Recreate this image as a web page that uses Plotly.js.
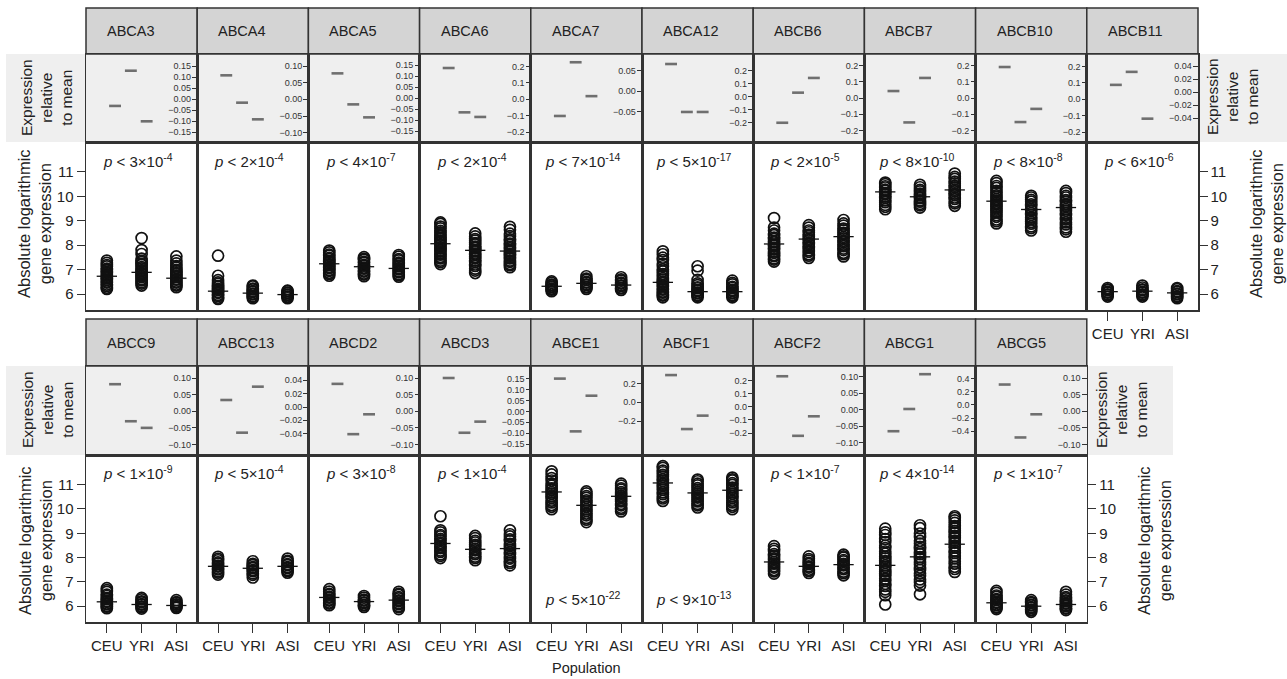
<!DOCTYPE html>
<html>
<head>
<meta charset="utf-8">
<script src="https://cdn.plot.ly/plotly-3.0.1.min.js"></script>
<style>html,body{margin:0;padding:0;background:#fff;}#chart{width:1287px;height:679px;}</style>
</head>
<body>
<div id="chart"></div>
<script>
// ---------------- DATA ----------------
const genes = ["ABCA3","ABCA4","ABCA5","ABCA6","ABCA7","ABCA12","ABCB6","ABCB7","ABCB10","ABCB11",
               "ABCC9","ABCC13","ABCD2","ABCD3","ABCE1","ABCF1","ABCF2","ABCG1","ABCG5"];
const populations = ["CEU","YRI","ASI"];

// p-value text: mantissa and exponent
const pMantissa = [3,2,4,2,7,5,2,8,8,6, 1,5,3,1,5,9,1,4,1];
const pExponent = [-4,-4,-7,-4,-14,-17,-5,-10,-8,-6, -9,-4,-8,-4,-22,-13,-7,-14,-7];

// Expression relative to mean (CEU, YRI, ASI)
const relCEU = [-0.03, 0.072, 0.112, 0.19, -0.06, 0.249, -0.153, 0.043, 0.196, 0.011,
                0.082, 0.0105, 0.083, 0.153, 0.254, 0.24, 0.101, -0.40, 0.081];
const relYRI = [0.13, -0.01, -0.029, -0.079, 0.07, -0.12, 0.033, -0.151, -0.138, 0.031,
                -0.030, -0.0385, -0.069, -0.098, -0.311, -0.17, -0.079, -0.061, -0.079];
const relASI = [-0.10, -0.06, -0.088, -0.107, -0.012, -0.12, 0.124, 0.124, -0.058, -0.041,
                -0.050, 0.0305, -0.009, -0.047, 0.071, -0.068, -0.020, 0.47, -0.009];

// tick values of the small "relative" axes
const relTicks = [
  [-0.15,-0.10,-0.05,0,0.05,0.10,0.15],
  [-0.10,-0.05,0,0.05,0.10],
  [-0.15,-0.10,-0.05,0,0.05,0.10,0.15],
  [-0.2,-0.1,0,0.1,0.2],
  [-0.05,0,0.05],
  [-0.2,-0.1,0,0.1,0.2],
  [-0.2,-0.1,0,0.1,0.2],
  [-0.2,-0.1,0,0.1,0.2],
  [-0.2,-0.1,0,0.1,0.2],
  [-0.04,-0.02,0,0.02,0.04],
  [-0.10,-0.05,0,0.05,0.10],
  [-0.04,-0.02,0,0.02,0.04],
  [-0.10,-0.05,0,0.05,0.10],
  [-0.15,-0.10,-0.05,0,0.05,0.10,0.15],
  [-0.2,0,0.2],
  [-0.2,-0.1,0,0.1,0.2],
  [-0.10,-0.05,0,0.05,0.10],
  [-0.4,-0.2,0,0.2,0.4],
  [-0.10,-0.05,0,0.05,0.10]
];

// population means of absolute log expression
const meanCEU = [6.73, 6.12, 7.24, 8.06, 6.32, 6.48, 8.05, 10.18, 9.80, 6.10,
                 6.18, 7.64, 6.36, 8.58, 10.70, 11.07, 7.82, 7.68, 6.14];
const meanYRI = [6.89, 6.04, 7.12, 7.79, 6.44, 6.10, 8.25, 9.98, 9.46, 6.12,
                 6.07, 7.56, 6.19, 8.34, 10.15, 10.66, 7.64, 8.03, 6.00];
const meanASI = [6.65, 5.98, 7.05, 7.76, 6.37, 6.10, 8.35, 10.26, 9.54, 6.05,
                 6.03, 7.64, 6.25, 8.37, 10.52, 10.77, 7.71, 8.55, 6.07];

// individual samples (absolute log expression)
const samplesCEU = [
  [6.21,6.26,6.33,6.39,6.47,6.51,6.58,6.64,6.68,6.75,6.79,6.86,6.91,6.99,7.04,7.13,7.19,7.28,7.37],
  [5.80,5.85,5.92,5.97,6.05,6.09,6.17,6.21,6.29,6.33,6.42,6.48,6.57,6.75,7.57],
  [6.75,6.82,6.87,6.95,6.99,7.07,7.11,7.19,7.23,7.31,7.35,7.43,7.48,7.57,7.62,7.71,7.78],
  [7.23,7.31,7.37,7.46,7.52,7.61,7.65,7.74,7.79,7.87,7.91,8.00,8.04,8.12,8.17,8.25,8.30,8.39,8.44,8.53,8.59,8.69,8.76,8.87,8.93],
  [6.12,6.18,6.22,6.28,6.31,6.36,6.39,6.46,6.52],
  [5.87,5.94,5.98,6.06,6.10,6.18,6.22,6.31,6.36,6.45,6.50,6.59,6.65,6.75,6.82,6.93,7.01,7.14,7.24,7.39,7.49,7.63,7.75],
  [7.33,7.41,7.46,7.55,7.60,7.69,7.74,7.83,7.88,7.97,8.02,8.11,8.16,8.25,8.31,8.41,8.47,8.60,8.72,9.11],
  [9.47,9.57,9.65,9.76,9.83,9.93,9.99,10.08,10.13,10.22,10.27,10.36,10.41,10.50,10.56],
  [8.89,8.98,9.05,9.16,9.23,9.34,9.40,9.50,9.56,9.66,9.72,9.82,9.88,9.98,10.04,10.15,10.22,10.34,10.42,10.54,10.63],
  [5.90,5.96,5.99,6.06,6.09,6.16,6.19,6.25],
  [5.92,5.98,6.01,6.08,6.11,6.18,6.21,6.29,6.33,6.42,6.48,6.59,6.66,6.74],
  [7.30,7.38,7.43,7.51,7.55,7.63,7.67,7.75,7.80,7.89,7.95,8.03],
  [6.04,6.11,6.15,6.23,6.27,6.35,6.39,6.47,6.51,6.60,6.70],
  [7.98,8.07,8.13,8.23,8.29,8.39,8.45,8.55,8.61,8.71,8.77,8.87,8.93,9.04,9.12,9.70],
  [9.99,10.09,10.16,10.27,10.34,10.45,10.52,10.63,10.69,10.79,10.85,10.96,11.04,11.17,11.27,11.42,11.55],
  [10.33,10.43,10.50,10.61,10.68,10.79,10.86,10.97,11.04,11.15,11.22,11.33,11.40,11.51,11.58,11.69,11.76],
  [7.34,7.43,7.49,7.59,7.65,7.75,7.81,7.91,7.97,8.07,8.14,8.27,8.36,8.47],
  [6.07,6.45,6.59,6.69,6.83,6.92,7.05,7.13,7.25,7.32,7.43,7.50,7.61,7.68,7.79,7.86,7.97,8.04,8.16,8.25,8.39,8.49,8.64,8.76,8.93,9.04,9.19],
  [5.88,5.94,5.97,6.04,6.07,6.14,6.17,6.25,6.29,6.38,6.44,6.55,6.63]
];
const samplesYRI = [
  [6.35,6.43,6.48,6.56,6.61,6.69,6.73,6.81,6.85,6.93,6.97,7.05,7.10,7.19,7.23,7.31,7.36,7.45,7.64,7.80,8.29],
  [5.83,5.89,5.92,5.99,6.02,6.09,6.12,6.19,6.23,6.31,6.35],
  [6.73,6.80,6.84,6.92,6.96,7.04,7.08,7.16,7.20,7.28,7.32,7.40,7.44,7.51],
  [6.86,6.96,7.04,7.15,7.21,7.31,7.37,7.47,7.52,7.61,7.66,7.75,7.80,7.89,7.94,8.03,8.09,8.19,8.25,8.36,8.48],
  [6.21,6.27,6.30,6.37,6.40,6.47,6.50,6.58,6.63,6.73],
  [5.87,5.93,5.96,6.03,6.06,6.13,6.16,6.24,6.28,6.37,6.44,6.58,6.96,7.14],
  [7.48,7.57,7.63,7.73,7.79,7.89,7.95,8.05,8.11,8.21,8.27,8.37,8.43,8.53,8.60,8.72,8.82],
  [9.54,9.63,9.69,9.78,9.83,9.92,9.97,10.06,10.11,10.20,10.26,10.37,10.47],
  [8.60,8.70,8.77,8.88,8.95,9.06,9.13,9.24,9.31,9.42,9.49,9.60,9.67,9.78,9.85,9.95,10.02],
  [5.90,5.96,5.99,6.06,6.09,6.16,6.19,6.27,6.35],
  [5.90,5.96,5.99,6.06,6.09,6.16,6.20,6.28,6.34],
  [7.18,7.29,7.35,7.44,7.49,7.57,7.61,7.69,7.74,7.85],
  [5.97,6.03,6.06,6.13,6.16,6.23,6.27,6.35,6.42],
  [7.89,7.98,8.04,8.14,8.20,8.30,8.36,8.46,8.52,8.62,8.69,8.80,8.89],
  [9.46,9.56,9.63,9.74,9.81,9.92,9.99,10.10,10.17,10.28,10.35,10.46,10.53,10.64,10.72],
  [10.06,10.15,10.21,10.31,10.37,10.47,10.53,10.63,10.69,10.79,10.86,10.97,11.04,11.14,11.21],
  [7.37,7.45,7.50,7.59,7.64,7.73,7.78,7.87,7.94,8.05],
  [6.49,6.85,6.99,7.10,7.25,7.35,7.49,7.59,7.72,7.81,7.94,8.02,8.14,8.22,8.35,8.44,8.58,8.69,8.85,8.99,9.21,9.33],
  [5.77,5.83,5.86,5.93,5.96,6.03,6.06,6.13,6.17,6.25]
];
const samplesASI = [
  [6.28,6.35,6.39,6.47,6.51,6.59,6.62,6.70,6.74,6.82,6.86,6.94,6.99,7.08,7.15,7.26,7.37,7.54],
  [5.83,5.88,5.90,5.96,5.98,6.04,6.06,6.12,6.14],
  [6.71,6.77,6.81,6.89,6.93,7.01,7.05,7.13,7.17,7.25,7.29,7.38,7.43,7.53,7.60],
  [7.10,7.18,7.23,7.32,7.37,7.46,7.51,7.59,7.64,7.73,7.78,7.87,7.92,8.01,8.07,8.17,8.24,8.37,8.47,8.63,8.75],
  [6.17,6.23,6.26,6.33,6.36,6.43,6.47,6.55,6.60,6.69],
  [5.87,5.93,5.96,6.03,6.06,6.13,6.17,6.25,6.30,6.40,6.46,6.55],
  [7.54,7.63,7.69,7.80,7.86,7.96,8.02,8.12,8.18,8.28,8.34,8.44,8.50,8.61,8.68,8.80,8.89,9.03],
  [9.61,9.71,9.78,9.89,9.95,10.05,10.11,10.21,10.27,10.37,10.43,10.53,10.60,10.71,10.79,10.93],
  [8.55,8.65,8.73,8.85,8.93,9.05,9.12,9.23,9.30,9.41,9.48,9.59,9.66,9.77,9.84,9.95,10.02,10.13,10.22],
  [5.83,5.89,5.92,5.99,6.02,6.09,6.12,6.20,6.25],
  [5.93,5.98,6.00,6.06,6.08,6.14,6.17,6.25],
  [7.38,7.45,7.49,7.57,7.61,7.69,7.73,7.82,7.87,7.96],
  [5.88,5.96,6.00,6.08,6.12,6.20,6.24,6.32,6.37,6.46,6.51,6.59],
  [7.68,7.78,7.85,7.96,8.03,8.14,8.21,8.32,8.39,8.50,8.57,8.68,8.75,8.87,8.96,9.12],
  [9.90,9.99,10.05,10.15,10.21,10.31,10.37,10.47,10.53,10.63,10.69,10.79,10.85,10.96,11.04],
  [9.99,10.09,10.16,10.27,10.34,10.45,10.52,10.63,10.70,10.81,10.88,10.99,11.06,11.17,11.22,11.29],
  [7.27,7.36,7.42,7.52,7.58,7.68,7.74,7.84,7.90,8.00,8.05,8.12],
  [7.41,7.53,7.62,7.75,7.84,7.97,8.06,8.19,8.28,8.41,8.49,8.61,8.69,8.81,8.89,9.01,9.09,9.21,9.30,9.43,9.53,9.63,9.70],
  [5.84,5.90,5.93,6.00,6.03,6.10,6.13,6.20,6.24,6.32,6.37,6.48,6.59]
];

// ---------------- LAYOUT GEOMETRY ----------------
const W = 1287, H = 679;
const px = x => x / W;
const py = y => 1 - y / H;
const FONT = "Liberation Sans, Arial, Helvetica, sans-serif";
const rowGeom = [
  {hdr:[8,54], rel:[54,142], abs:[142,310]},
  {hdr:[319,366], rel:[366,455], abs:[455,622]}
];
const panelW = 111.2, left0 = 86;
const relRange = [
  [-0.194,0.206],[-0.128,0.136],[-0.2,0.2],[-0.259,0.275],[-0.123,0.090],[-0.351,0.326],
  [-0.272,0.272],[-0.272,0.272],[-0.259,0.275],[-0.0769,0.0585],
  [-0.132,0.137],[-0.072,0.0615],[-0.132,0.137],[-0.2,0.208],[-0.564,0.389],[-0.367,0.309],
  [-0.137,0.132],[-0.763,0.595],[-0.132,0.137]
];
const pAtBottom = {"ABCE1":true, "ABCF1":true};

const traces = [];
const layout = {
  width: W, height: H,
  margin: {l:0, r:0, t:0, b:0},
  paper_bgcolor: "#ffffff",
  plot_bgcolor: "rgba(0,0,0,0)",
  showlegend: false,
  hovermode: false,
  font: {family: FONT, color: "#222"},
  shapes: [],
  annotations: []
};

// grey background bands of the "relative" rows
layout.shapes.push({type:"rect", xref:"paper", yref:"paper", layer:"below",
  x0:px(6), x1:px(1287), y0:py(142), y1:py(54), fillcolor:"#efefef", line:{width:0}});
layout.shapes.push({type:"rect", xref:"paper", yref:"paper", layer:"below",
  x0:px(6), x1:px(1173), y0:py(455), y1:py(366), fillcolor:"#efefef", line:{width:0}});

const nRow0 = 10;
genes.forEach((g, k) => {
  const r = k < nRow0 ? 0 : 1;
  const c = k < nRow0 ? k : k - nRow0;
  const lastCol = r === 0 ? nRow0 - 1 : genes.length - nRow0 - 1;
  const G = rowGeom[r];
  const x0 = left0 + c * panelW, x1 = x0 + panelW;
  const iRel = 2*k + 1, iAbs = 2*k + 2;
  const xr = "x" + iRel, yr = "y" + iRel, xa = "x" + iAbs, ya = "y" + iAbs;

  // header box
  layout.shapes.push({type:"rect", xref:"paper", yref:"paper", layer:"below",
    x0:px(x0), x1:px(x1), y0:py(G.hdr[1]), y1:py(G.hdr[0]),
    fillcolor:"#d4d4d4", line:{color:"#333", width:1.5}});
  layout.annotations.push({xref:"paper", yref:"paper", x:px(x0+19), y:py((G.hdr[0]+G.hdr[1])/2),
    xanchor:"left", yanchor:"middle", text:g, showarrow:false, font:{size:14.5, color:"#222", family:FONT}});

  // relative axes
  const step = relTicks[k][1] - relTicks[k][0];
  layout["xaxis" + iRel] = {domain:[px(x0), px(x1)], range:[-0.84, 6.2], anchor:yr,
    showticklabels:false, ticks:"", showgrid:false, zeroline:false,
    showline:true, mirror:true, linecolor:"#333", linewidth:1.5, fixedrange:true};
  layout["yaxis" + iRel] = {domain:[py(G.rel[1]), py(G.rel[0])], range:relRange[k], anchor:xr,
    side:"right", tickvals:relTicks[k], tickformat: step >= 0.099 ? ".1f" : ".2f",
    ticks:"inside", ticklen:5, tickwidth:1, tickcolor:"#333", ticklabelposition:"inside",
    tickfont:{size:9, color:"#333", family:FONT}, showgrid:false, zeroline:false,
    showline:true, mirror:true, linecolor:"#333", linewidth:1.5, fixedrange:true};

  traces.push({type:"scatter", mode:"markers", xaxis:xr, yaxis:yr,
    x:[1,2,3], y:[relCEU[k], relYRI[k], relASI[k]],
    marker:{symbol:"line-ew", size:8.5, line:{width:2.6, color:"#6f6f6f"}}, cliponaxis:false});

  // absolute axes
  const showX = (r === 1) || (k === nRow0 - 1);
  layout["xaxis" + iAbs] = {domain:[px(x0), px(x1)], range:[0.4, 3.6], anchor:ya,
    tickvals:[1,2,3], ticktext:populations, showticklabels:showX, ticks: showX ? "outside" : "",
    ticklen:9, tickwidth:1, tickcolor:"#333", tickfont:{size:15, color:"#222", family:FONT},
    showgrid:false, zeroline:false, showline:true, mirror:true, linecolor:"#333", linewidth:1.5, fixedrange:true};
  const showY = (c === 0) || (c === lastCol);
  layout["yaxis" + iAbs] = {domain:[py(G.abs[1]), py(G.abs[0])], range:[5.35, 12.22], anchor:xa,
    side: c === 0 ? "left" : "right", tickvals:[6,7,8,9,10,11], showticklabels:showY,
    ticks: showY ? "outside" : "", ticklen:8, tickwidth:1, tickcolor:"#333",
    tickfont:{size:15, color:"#222", family:FONT}, showgrid:false, zeroline:false,
    showline:true, mirror:true, linecolor:"#333", linewidth:1.5, fixedrange:true};

  const xs = [], ys = [];
  [samplesCEU[k], samplesYRI[k], samplesASI[k]].forEach((arr, j) => {
    arr.forEach(v => { xs.push(j + 1); ys.push(v); });
  });
  traces.push({type:"scatter", mode:"markers", xaxis:xa, yaxis:ya, x:xs, y:ys,
    marker:{symbol:"circle-open", size:11, color:"#111", line:{width:1.7}}, cliponaxis:false});
  traces.push({type:"scatter", mode:"markers", xaxis:xa, yaxis:ya,
    x:[1,2,3], y:[meanCEU[k], meanYRI[k], meanASI[k]],
    marker:{symbol:"line-ew", size:14.5, line:{width:1.3, color:"#111"}}, cliponaxis:false});

  // p-value annotation
  const yP = pAtBottom[g] ? (r === 0 ? 285 : 598) : (r === 0 ? 160 : 472);
  layout.annotations.push({xref:"paper", yref:"paper", x:px(x0 + panelW*0.47), y:py(yP),
    xanchor:"center", yanchor:"middle", showarrow:false,
    text:"<i>p</i> &lt; " + pMantissa[k] + "×10<sup>" + pExponent[k] + "</sup>",
    font:{size:15, color:"#222", family:FONT}});
});

// side labels
function sideLabel(x, y, text, size){
  layout.annotations.push({xref:"paper", yref:"paper", x:px(x), y:py(y), xanchor:"center", yanchor:"middle",
    textangle:-90, showarrow:false, text:text, font:{size:size, color:"#222", family:FONT}});
}
const relLabel = "Expression<br>relative<br>to mean";
const absLabel = "Absolute logarithmic<br>gene expression";
sideLabel(47, 98, relLabel, 15.5);
sideLabel(35, 224, absLabel, 16.5);
sideLabel(47, 410, relLabel, 15.5);
sideLabel(35, 541, absLabel, 16.5);
sideLabel(1233, 97, relLabel, 15.5);
sideLabel(1267, 224, absLabel, 16.5);
sideLabel(1121, 410, relLabel, 15.5);
sideLabel(1154, 541, absLabel, 16.5);

layout.annotations.push({xref:"paper", yref:"paper", x:px(left0 + 9*panelW/2), y:py(668),
  xanchor:"center", yanchor:"middle", showarrow:false, text:"Population",
  font:{size:14.5, color:"#222", family:FONT}});

Plotly.newPlot("chart", traces, layout, {staticPlot:true, displayModeBar:false});
</script>
</body>
</html>
